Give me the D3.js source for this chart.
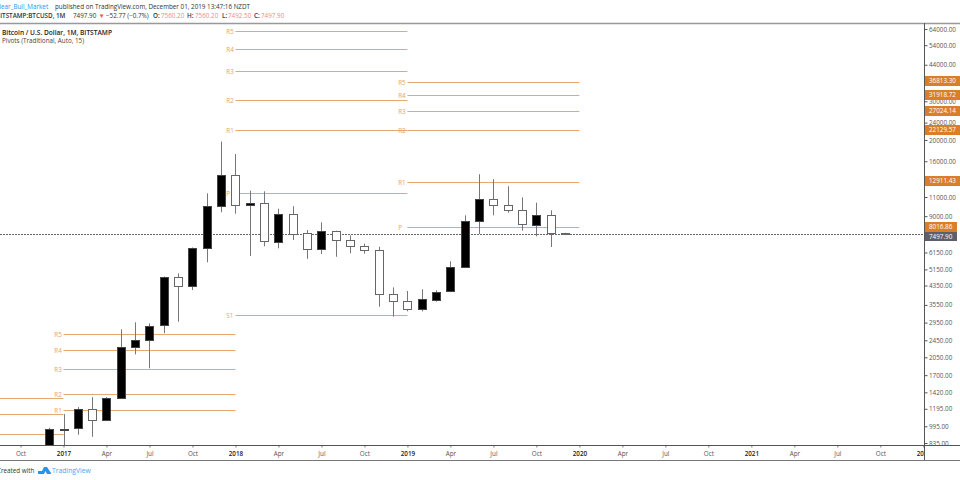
<!DOCTYPE html>
<html>
<head>
<meta charset="utf-8">
<script src="https://cdn.jsdelivr.net/npm/d3@7"></script>
<style>
html,body{margin:0;padding:0;background:#fff;overflow:hidden}
text{font-family:"Open Sans",sans-serif;font-size:6.3px}
</style>
</head>
<body>
<div id="svgArea"></div>
<script>
// monthly candles, first one is Dec 2016 (index -1, Jan 2017 is 0)
const firstMonth = -1;
const opens  = [747,963,970,1189,1060,1340,2280,2455,2854,4735,4320,6444,9984,13880,10085,10300,6915,9236,7520,6357,7674,6987,6560,6290,3968,3689,3400,3765,4076,5265,8548,10739,10085,9570,8262,9133,7560.2];
const highs  = [980,1130,1216,1350,1350,2748,2958,2925,4780,4941,6480,11436,19666,17262,11750,11678,9727,9984,7780,8438,7730,7359,6744,6530,4266,4108,4183,4137,5609,9080,13960,13250,12310,10960,10363,9570,7560.2];
const lows   = [735,750,911,891,1055,1335,2114,1827,2640,2977,4150,5550,9372,9236,5925,6560,6427,7006,5755,6052,5880,6098,6076,3484,3137,3320,3320,3672,4060,5250,7464,9080,9330,7732,7285,6515,7492.5];
const closes = [963,970,1189,1060,1340,2280,2455,2854,4735,4320,6444,9984,13880,10085,10300,6915,9236,7520,6357,7674,6987,6560,6290,3968,3689,3400,3765,4076,5265,8548,10739,10085,9570,8262,9133,7560.2,7497.9];

// yearly pivots
const pivotYears = [-12,0,12,24,36];
const pivots2016 = [1333,1128,915];
const pivots2017Names = ["R5","R4","R3","R2","R1"];
const pivots2017 = [2625,2218,1807,1391,1176];
const pivots2018Names = ["R5","R4","R3","R2","R1","P","S1"];
const pivots2018 = [62374,51697,41020,30350,22100,11427,3188];
const pivots2019Names = ["R5","R4","R3","R2","R1","P"];
const pivots2019 = [36813.30,31918.72,27024.14,22129.57,12911.43,8016.86];

const priceTicks = [64000,54000,44000,30000,24000,20000,16000,11000,9000,6150,5150,4350,3550,2950,2450,2050,1700,1420,1195,995,835];
const timeTicks = [-3,0,3,6,9,12,15,18,21,24,27,30,33,36,39,42,45,48,51,54,57,60];
const timeLabels = ["Oct","2017","Apr","Jul","Oct","2018","Apr","Jul","Oct","2019","Apr","Jul","Oct","2020","Apr","Jul","Oct","2021","Apr","Jul","Oct","2022"];
const lastPrice = 7497.90;

const width = 960, height = 480, plotRight = 924, plotTop = 23, plotBottom = 445, footLine = 460;
const orange = "#e5a873", badge = "#d97f2b";
const fontName = '"Open Sans",sans-serif';

const svg = d3.select("#svgArea").append("svg").attr("width", width).attr("height", height).style("display","block");

const xScale = d3.scaleLinear().domain([0,36]).range([63.5,579.4]);
const yScale = d3.scaleLog().domain([835,64000]).range([443,29]);
const px = v => Math.round(v) + 0.5;

svg.append("clipPath").attr("id","plotClip").append("rect").attr("x",0).attr("y",plotTop).attr("width",plotRight).attr("height",plotBottom-plotTop);
const plot = svg.append("g").attr("clip-path","url(#plotClip)");

// pivot lines and their labels
function drawPivots(values, names, start, end){
  values.forEach((v,i)=>{
    plot.append("line").attr("x1",xScale(start)).attr("x2",xScale(end))
      .attr("y1",px(yScale(v))).attr("y2",px(yScale(v))).attr("stroke",orange);
    if(names){
      plot.append("text").attr("x",xScale(start)-9.2).attr("y",yScale(v)+2.8)
        .attr("fill","#e6a26a").text(names[i]);
    }
  });
}
drawPivots(pivots2016, null, pivotYears[0], pivotYears[1]);
drawPivots(pivots2017, pivots2017Names, pivotYears[1], pivotYears[2]);
drawPivots(pivots2018, pivots2018Names, pivotYears[2], pivotYears[3]);
drawPivots(pivots2019, pivots2019Names, pivotYears[3], pivotYears[4]);

// last price line
plot.append("line").attr("x1",0).attr("x2",plotRight).attr("y1",px(yScale(lastPrice))).attr("y2",px(yScale(lastPrice)))
  .attr("stroke","#666").attr("stroke-dasharray","2,1");

// candles
const candles = opens.map((o,i)=>({idx:firstMonth+i,o:o,h:highs[i],l:lows[i],c:closes[i]}));
const cg = plot.selectAll("g.candle").data(candles).enter().append("g").attr("class","candle");
cg.append("line")
  .attr("x1",d=>px(xScale(d.idx))).attr("x2",d=>px(xScale(d.idx)))
  .attr("y1",d=>yScale(d.h)).attr("y2",d=>yScale(d.l))
  .attr("stroke","#777");
cg.append("rect")
  .attr("x",d=>px(xScale(d.idx))-4)
  .attr("width",8)
  .attr("y",d=>px(yScale(Math.max(d.o,d.c))))
  .attr("height",d=>Math.max(Math.round(yScale(Math.min(d.o,d.c))-yScale(Math.max(d.o,d.c))),0.5))
  .attr("fill",d=>d.c>d.o?"#000":"#fff")
  .attr("stroke",d=>d.c>d.o?"#444":"#666");

// right axis
const yAxisG = svg.append("g").attr("transform","translate("+(plotRight+0.5)+",0)");
yAxisG.call(d3.axisRight(yScale).tickValues(priceTicks).tickSize(3).tickPadding(1.5).tickFormat(d=>d.toFixed(2)));
yAxisG.select(".domain").remove();
yAxisG.selectAll("line").attr("stroke","#555");
yAxisG.selectAll("text").attr("fill","#555").style("font-size","6.3px").style("font-family",fontName);

// bottom axis
const xAxisG = svg.append("g").attr("transform","translate(0,"+(plotBottom+0.5)+")");
xAxisG.call(d3.axisBottom(xScale).tickValues(timeTicks).tickSize(2).tickPadding(4.5).tickFormat((d,i)=>timeLabels[i]));
xAxisG.select(".domain").remove();
xAxisG.selectAll("line").attr("stroke","#777");
xAxisG.selectAll("text").attr("fill",(d,i)=>/^20/.test(timeLabels[i])?"#222":"#555")
  .style("font-weight",(d,i)=>/^20/.test(timeLabels[i])?"600":"400")
  .style("font-size","6.3px").style("font-family",fontName);
// covers the tail of the clipped last label
svg.append("rect").attr("x",plotRight).attr("y",plotBottom+1).attr("width",width-plotRight).attr("height",footLine-plotBottom-1).attr("fill","#fff");

// price badges
pivots2019.forEach((v,i)=>{
  const cy = yScale(v)-0.5;
  svg.append("rect").attr("x",plotRight+1).attr("y",Math.round(cy-5)).attr("width",i==5?32:35).attr("height",10).attr("fill",badge);
  svg.append("text").attr("x",plotRight+5).attr("y",Math.round(cy-5)+7.3).attr("fill","#fff").text(v.toFixed(2));
});
svg.append("rect").attr("x",plotRight+1).attr("y",232).attr("width",32).attr("height",9).attr("fill","#5d606b");
svg.append("text").attr("x",plotRight+5).attr("y",239).attr("fill","#fff").text(lastPrice.toFixed(2));

// frame
svg.append("line").attr("x1",0).attr("x2",width).attr("y1",plotTop+0.5).attr("y2",plotTop+0.5).attr("stroke","#999").attr("stroke-width",1.5);
svg.append("line").attr("x1",0).attr("x2",width).attr("y1",plotBottom+0.5).attr("y2",plotBottom+0.5).attr("stroke","#555");
svg.append("line").attr("x1",0).attr("x2",width).attr("y1",footLine+0.5).attr("y2",footLine+0.5).attr("stroke","#777");
svg.append("line").attr("x1",plotRight+0.5).attr("x2",plotRight+0.5).attr("y1",plotTop).attr("y2",footLine).attr("stroke","#555");

// header
const head1 = svg.append("text").attr("x",-3).attr("y",9).attr("fill","#333");
head1.append("tspan").attr("fill","#2196f3").text("Bear_Bull_Market");
head1.append("tspan").attr("x",55).text("published on TradingView.com, December 01, 2019 13:47:16 NZDT");
const head2 = svg.append("text").attr("y",17.8).attr("fill","#333");
head2.append("tspan").attr("x",-4).attr("font-weight","600").text("BITSTAMP:BTCUSD, 1M");
head2.append("tspan").attr("x",73).text("7497.90");
head2.append("tspan").attr("x",98.5).attr("fill","#ef5350").text("▼");
head2.append("tspan").attr("x",106).text("−52.77 (−0.7%)");
head2.append("tspan").attr("x",153).attr("font-weight","600").text("O:");
head2.append("tspan").attr("x",161).attr("fill","#ef8a8a").text("7560.20");
head2.append("tspan").attr("x",187).attr("font-weight","600").text("H:");
head2.append("tspan").attr("x",195).attr("fill","#ef8a8a").text("7560.20");
head2.append("tspan").attr("x",222).attr("font-weight","600").text("L:");
head2.append("tspan").attr("x",228).attr("fill","#ef8a8a").text("7492.50");
head2.append("tspan").attr("x",254).attr("font-weight","600").text("C:");
head2.append("tspan").attr("x",261).attr("fill","#ef8a8a").text("7497.90");

// legend
svg.append("text").attr("x",2).attr("y",34.5).attr("font-weight","600").attr("fill","#222").style("font-size","6.6px").text("Bitcoin / U.S. Dollar, 1M, BITSTAMP");
svg.append("text").attr("x",2).attr("y",43.3).attr("fill","#444").text("Pivots (Traditional, Auto, 15)");

// footer
svg.append("text").attr("x",-3).attr("y",473).attr("fill","#333").text("Created with");
svg.append("path").attr("d","M38 474 L38 471 L42 471 L44 467 L47 467 L51 473 L51 474 L47 474 L45.5 471 L44 474 Z").attr("fill","#2196f3");
svg.append("text").attr("x",52).attr("y",473).attr("fill","#4aa3f0").style("font-size","6.8px").text("TradingView");
</script>
</body>
</html>
